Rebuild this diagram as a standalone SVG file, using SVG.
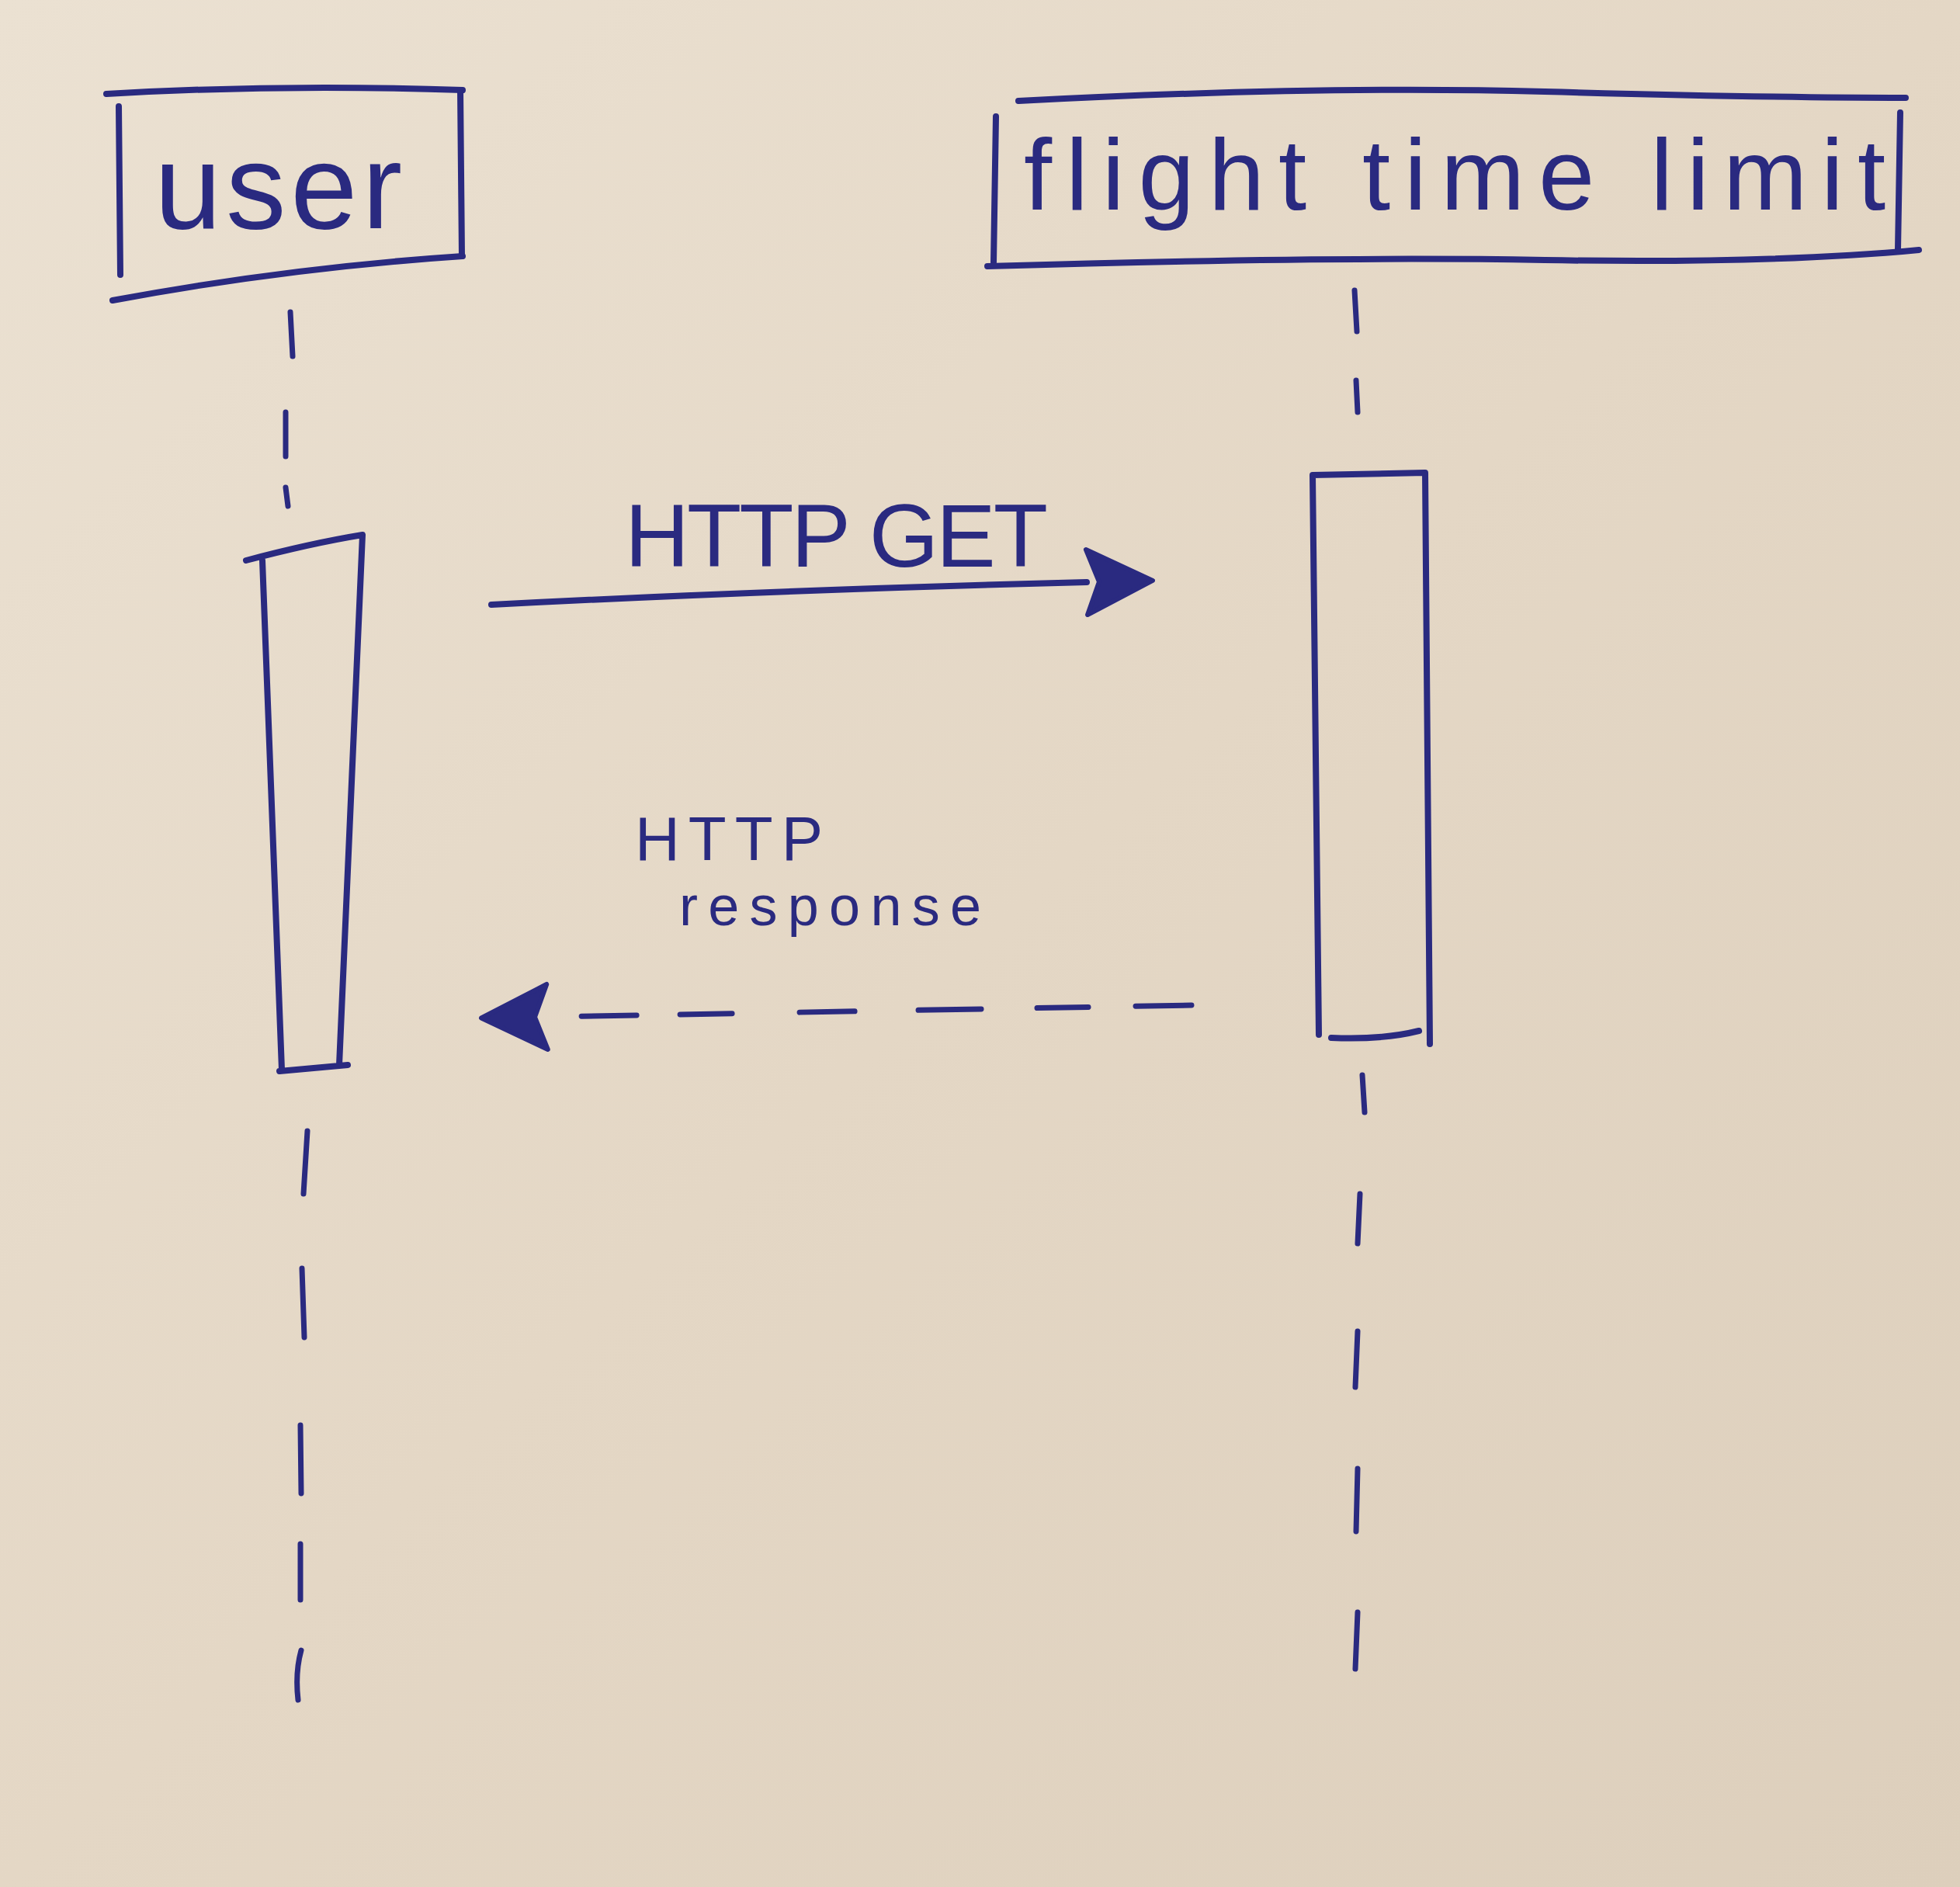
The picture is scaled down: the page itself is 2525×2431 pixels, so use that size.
<svg xmlns="http://www.w3.org/2000/svg" width="2525" height="2431" viewBox="0 0 2525 2431">
  <defs>
    <linearGradient id="paper" x1="0" y1="0" x2="1" y2="1">
      <stop offset="0" stop-color="#ebe1d2"/>
      <stop offset="0.5" stop-color="#e4d7c5"/>
      <stop offset="1" stop-color="#ddcfbc"/>
    </linearGradient>
    <marker id="head" markerUnits="userSpaceOnUse" viewBox="-5 -50 100 100" markerWidth="100" markerHeight="100" refX="0" refY="0" orient="auto">
      <path d="M0,-42 L85,0 L0,42 L16,0 Z" fill="#2a2a80" stroke="#2a2a80" stroke-width="6" stroke-linejoin="round"/>
    </marker>
    <style>
      .ink { fill: none; stroke: #2a2a80; stroke-width: 8; stroke-linecap: round; stroke-linejoin: round; }
      .txt { font-family: "Liberation Sans", Arial, sans-serif; fill: #2a2a80; }
      .dash { fill: none; stroke: #2a2a80; stroke-width: 7; stroke-linecap: round; }
    </style>
  </defs>

  <rect x="0" y="0" width="2525" height="2431" fill="url(#paper)"/>

  <g id="user">
    <path class="ink" d="M137,121 Q360,108 596,116"/>
    <path class="ink" d="M153,137 L155,354"/>
    <path class="ink" d="M593,116 L595,330"/>
    <path class="ink" d="M145,387 Q370,345 596,330"/>
    <text class="txt" x="199" y="294" font-size="155" textLength="319" lengthAdjust="spacing">user</text>
  </g>

  <g id="flight-time-limit">
    <path class="ink" d="M1312,130 Q1700,110 1990,118 T2455,126"/>
    <path class="ink" d="M1283,150 L1280,338"/>
    <path class="ink" d="M2448,145 L2445,322"/>
    <path class="ink" d="M1272,343 Q1700,330 1990,335 T2472,322"/>
    <text class="txt" x="1319" y="270" font-size="130" textLength="1110" lengthAdjust="spacing">flight time limit</text>
  </g>

  <g id="user-activation">
    <path class="ink" d="M317,722 Q400,700 467,689 L437,1372 M360,1380 L448,1372 M338,722 L363,1378"/>
  </g>

  <g id="ftl-activation">
    <path class="ink" d="M1691,612 L1836,609 L1842,1345 M1691,612 L1699,1333 M1715,1337 Q1780,1340 1828,1328"/>
  </g>

  <g id="connectors">
    <!-- user lifeline -->
    <path class="dash" d="M374,402 L377,459 M368,531 L368,588 M368,628 L371,652"/>
    <path class="dash" d="M396,1457 L391,1538 M389,1634 L392,1723 M387,1836 L388,1924 M387,1989 L387,2061 M388,2126 Q380,2155 384,2190"/>
    <!-- flight time limit lifeline -->
    <path class="dash" d="M1745,374 L1748,427 M1747,490 L1749,531"/>
    <path class="dash" d="M1755,1385 L1758,1433 M1752,1538 L1749,1602 M1749,1715 L1746,1787 M1749,1892 L1747,1973 M1749,2077 L1746,2150"/>
    <!-- HTTP GET message -->
    <path class="ink" d="M633,779 Q1000,760 1400,750" marker-end="url(#head)"/>
    <text class="txt" x="805" y="730" font-size="115" textLength="545" lengthAdjust="spacing">HTTP GET</text>
    <!-- HTTP response message -->
    <path class="dash" d="M1535,1295 L705,1310" stroke-dasharray="72 61 66 72 81 82 71 87 67 56 71 60" marker-end="url(#head)"/>
    <text class="txt" x="818" y="1108" font-size="80" textLength="242" lengthAdjust="spacing">HTTP</text>
    <text class="txt" x="875" y="1192" font-size="72" textLength="389" lengthAdjust="spacing">response</text>
  </g>
</svg>
